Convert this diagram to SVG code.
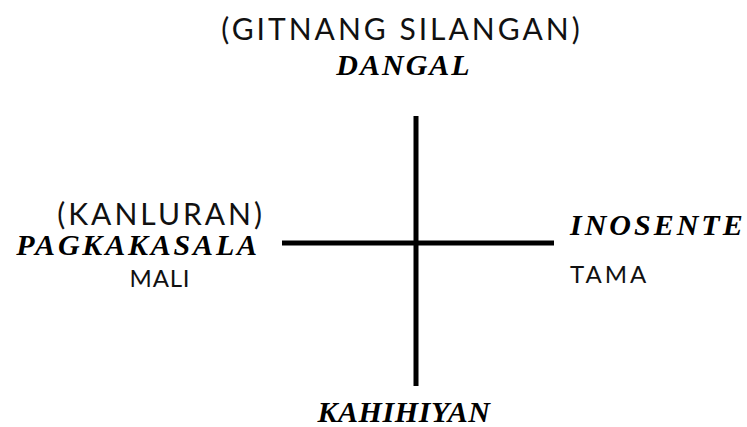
<svg xmlns="http://www.w3.org/2000/svg" width="747" height="427" viewBox="0 0 747 427">
<style>
.s{font-family:Lato,"Noto Sans","Liberation Sans",sans-serif;font-weight:400;fill:#111;letter-spacing:3px}
.b{font-family:"Liberation Serif","Times New Roman",serif;font-weight:bold;font-style:italic;fill:#000;letter-spacing:2px;font-size:30px}
.ax{stroke:#000;stroke-width:5;fill:none}
</style>
<rect width="747" height="427" fill="#fff"/>
<g id="connectors">
<line class="ax" x1="416" y1="116" x2="416" y2="386"/>
<line class="ax" x1="282" y1="243" x2="554" y2="243"/>
</g>
<g id="north">
<text class="s" x="402" y="40" font-size="30" text-anchor="middle">(GITNANG SILANGAN)</text>
<text class="b" x="404" y="75" text-anchor="middle">DANGAL</text>
</g>
<g id="west">
<text class="s" x="265" y="225" font-size="30" text-anchor="end">(KANLURAN)</text>
<text class="b" x="138" y="255" text-anchor="middle" style="letter-spacing:2.8px">PAGKAKASALA</text>
<text class="s" x="160" y="287" font-size="24" text-anchor="middle" style="letter-spacing:0.8px">MALI</text>
</g>
<g id="east">
<text class="b" x="570" y="235" style="letter-spacing:3px">INOSENTE</text>
<text class="s" x="570" y="283" font-size="24">TAMA</text>
</g>
<g id="south">
<text class="b" x="404" y="422" text-anchor="middle" style="letter-spacing:0.6px">KAHIHIYAN</text>
</g>
</svg>
